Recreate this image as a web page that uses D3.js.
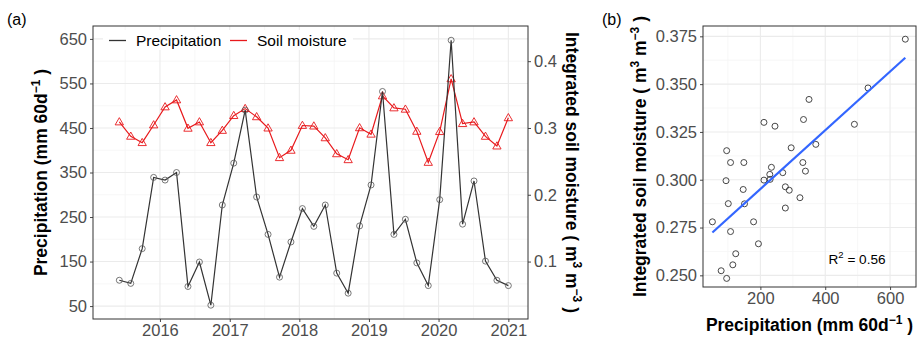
<!doctype html>
<html>

<head>
    <meta charset="UTF-8">
    <title>Precipitation and soil moisture</title>
    <script src="https://d3js.org/d3.v7.min.js"></script>
    <style>
        body { margin: 0; background: #fff; }
        text { font-family: "Liberation Sans", Arial, sans-serif; }
    </style>
</head>

<body>
    <script>
        // 60-day periods
        var dates = ["2015-06-02", "2015-08-01", "2015-09-30", "2015-11-29", "2016-01-28", "2016-03-28",
            "2016-05-27", "2016-07-26", "2016-09-24", "2016-11-23", "2017-01-22", "2017-03-23",
            "2017-05-22", "2017-07-21", "2017-09-19", "2017-11-18", "2018-01-17", "2018-03-18",
            "2018-05-17", "2018-07-16", "2018-09-14", "2018-11-13", "2019-01-12", "2019-03-13",
            "2019-05-12", "2019-07-11", "2019-09-09", "2019-11-08", "2020-01-07", "2020-03-07",
            "2020-05-06", "2020-07-05", "2020-09-03", "2020-11-02", "2021-01-01"];
        // mm per 60 d
        var precip = [108, 101, 179, 339, 333, 350, 94, 149, 52, 277, 371, 490,
            295, 211, 115, 194, 269, 229, 277, 124, 79, 230, 322, 532,
            211, 245, 147, 96, 289, 647, 234, 331, 151, 108, 96];
        // m3 m-3
        var soil = [0.309, 0.2875, 0.278, 0.3045, 0.3315, 0.342, 0.2995, 0.309, 0.278, 0.2963, 0.3185, 0.329,
            0.3167, 0.2998, 0.2555, 0.2665, 0.3037, 0.3028, 0.2852, 0.2613, 0.2524, 0.3002, 0.2906, 0.348,
            0.330, 0.328, 0.2949, 0.2484, 0.2945, 0.3735, 0.3065, 0.309, 0.2874, 0.2729, 0.3152];

        var yearTicks = [2016, 2017, 2018, 2019, 2020, 2021];
        var precipTicks = [50, 150, 250, 350, 450, 550, 650];
        var soilTicksA = [0.1, 0.2, 0.3, 0.4];
        var scatterXTicks = [200, 400, 600];
        var scatterYTicks = [0.250, 0.275, 0.300, 0.325, 0.350, 0.375];
        var r2Label = "0.56";

        var W = 920, H = 339;
        var grid = "#ebebeb", border = "#333333", tickCol = "#4d4d4d";
        var tickFont = 16.5, titleFont = 17.5;

        var parse = d3.timeParse("%Y-%m-%d");
        var data = dates.map(function (d, i) {
            return { date: parse(d), p: precip[i], s: soil[i] };
        });

        var svg = d3.select("body").append("svg")
            .attr("width", W).attr("height", H);

        drawSeries();
        drawScatter();

        function gridLines(g, xs, ys, x, y, minorX, minorY) {
            g.selectAll(".mx").data(minorX).enter().append("line")
                .attr("x1", x).attr("x2", x).attr("y1", ys[0]).attr("y2", ys[1])
                .attr("stroke", "#f5f5f5").attr("stroke-width", 0.8);
            g.selectAll(".my").data(minorY).enter().append("line")
                .attr("y1", y).attr("y2", y).attr("x1", xs[0]).attr("x2", xs[1])
                .attr("stroke", "#f5f5f5").attr("stroke-width", 0.8);
        }

        function styleAxis(g) {
            g.select(".domain").remove();
            g.selectAll(".tick line").attr("stroke", border).attr("stroke-width", 0.9);
            g.selectAll(".tick text").attr("fill", tickCol)
                .style("font-size", tickFont + "px")
                .style("font-family", "'Liberation Sans', Arial, sans-serif");
        }

        function drawSeries() {
            var L = 93, R = 528, T = 26, B = 319;
            var x = d3.scaleTime().domain([parse("2015-01-15"), parse("2021-04-14")]).range([L, R]);
            var y = d3.scaleLinear().domain([21, 679]).range([B, T]);
            // secondary axis: soil moisture * 1500 = precipitation scale
            var y2 = d3.scaleLinear().domain([21 / 1500, 679 / 1500]).range([B, T]);

            var g = svg.append("g");
            var minorYears = [2015.5, 2016.5, 2017.5, 2018.5, 2019.5, 2020.5];
            var minorX = minorYears.map(function (v) {
                var yr = Math.floor(v);
                return d3.timeDay.offset(new Date(yr, 0, 1), Math.round((new Date(yr + 1, 0, 1) - new Date(yr, 0, 1)) / 864e5 / 2));
            });
            var minorY = [100, 200, 300, 400, 500, 600];
            gridLines(g, [L, R], [T, B], function (d) { return x(d); }, function (d) { return y(d); }, minorX, minorY);

            g.selectAll(".gx").data(yearTicks).enter().append("line")
                .attr("x1", function (d) { return x(new Date(d, 0, 1)); })
                .attr("x2", function (d) { return x(new Date(d, 0, 1)); })
                .attr("y1", T).attr("y2", B).attr("stroke", grid).attr("stroke-width", 1.1);
            g.selectAll(".gy").data(precipTicks).enter().append("line")
                .attr("x1", L).attr("x2", R)
                .attr("y1", function (d) { return y(d); }).attr("y2", function (d) { return y(d); })
                .attr("stroke", grid).attr("stroke-width", 1.1);

            // soil moisture
            g.append("path").datum(data)
                .attr("d", d3.line().x(function (d) { return x(d.date); }).y(function (d) { return y2(d.s); }))
                .attr("fill", "none").attr("stroke", "#e8191c").attr("stroke-width", 1.2);
            g.selectAll(".tri").data(data).enter().append("path")
                .attr("d", d3.symbol().type(d3.symbolTriangle).size(30))
                .attr("transform", function (d) { return "translate(" + x(d.date) + "," + (y2(d.s) + 0.5) + ")"; })
                .attr("fill", "none").attr("stroke", "#e8191c").attr("stroke-width", 0.9);

            // precipitation
            g.append("path").datum(data)
                .attr("d", d3.line().x(function (d) { return x(d.date); }).y(function (d) { return y(d.p); }))
                .attr("fill", "none").attr("stroke", "#333333").attr("stroke-width", 1.2);
            g.selectAll(".pt").data(data).enter().append("circle")
                .attr("cx", function (d) { return x(d.date); })
                .attr("cy", function (d) { return y(d.p); })
                .attr("r", 3).attr("fill", "none").attr("stroke", "#555").attr("stroke-width", 0.8);

            g.append("rect").attr("x", L).attr("y", T).attr("width", R - L).attr("height", B - T)
                .attr("fill", "none").attr("stroke", border).attr("stroke-width", 1);

            // legend
            var lg = g.append("g");
            lg.append("rect").attr("x", 103).attr("y", 30).attr("width", 250).attr("height", 20).attr("fill", "#fff");
            var keys = [
                { name: "Precipitation", col: "#333333", x: 109 },
                { name: "Soil moisture", col: "#e8191c", x: 230 }
            ];
            keys.forEach(function (k) {
                lg.append("line").attr("x1", k.x).attr("x2", k.x + 17).attr("y1", 40.5).attr("y2", 40.5)
                    .attr("stroke", k.col).attr("stroke-width", 1.3);
                lg.append("text").attr("x", k.x + 27).attr("y", 46).style("font-size", "15.5px")
                    .attr("fill", "#000").text(k.name);
            });

            svg.append("g").attr("transform", "translate(" + L + ",0)")
                .call(d3.axisLeft(y).tickValues(precipTicks).tickSize(3).tickPadding(3))
                .call(styleAxis);
            svg.append("g").attr("transform", "translate(" + R + ",0)")
                .call(d3.axisRight(y2).tickValues(soilTicksA).tickSize(3).tickPadding(3).tickFormat(d3.format(".1f")))
                .call(styleAxis);
            svg.append("g").attr("transform", "translate(0," + B + ")")
                .call(d3.axisBottom(x).tickValues(yearTicks.map(function (d) { return new Date(d, 0, 1); }))
                    .tickSize(3).tickPadding(2).tickFormat(d3.timeFormat("%Y")))
                .call(styleAxis);

            // titles
            var t1 = svg.append("text").attr("transform", "translate(47," + (T + B) / 2 + ") rotate(-90)")
                .attr("text-anchor", "middle").style("font-size", titleFont + "px").style("font-weight", "bold");
            t1.append("tspan").text("Precipitation (mm 60d");
            t1.append("tspan").attr("dy", -7).style("font-size", "12px").text("\u22121");
            t1.append("tspan").attr("dy", 7).text(" )");

            var t2 = svg.append("text").attr("transform", "translate(565.5," + (T + B) / 2 + ") rotate(90)")
                .attr("text-anchor", "middle").style("font-size", titleFont + "px").style("font-weight", "bold");
            t2.append("tspan").text("Integrated soil moisture ( m");
            t2.append("tspan").attr("dy", -7).style("font-size", "12px").text("3");
            t2.append("tspan").attr("dy", 7).text(" m");
            t2.append("tspan").attr("dy", -7).style("font-size", "12px").text("\u22123");
            t2.append("tspan").attr("dy", 7).text(" )");

            svg.append("text").attr("x", 7).attr("y", 25).style("font-size", "16px").text("(a)");
        }

        function drawScatter() {
            var L = 703, R = 916, T = 26, B = 287;
            var x = d3.scaleLinear().domain([23, 680]).range([L, R]);
            var y = d3.scaleLinear().domain([0.2439, 0.3804]).range([B, T]);

            var g = svg.append("g");
            gridLines(g, [L, R], [T, B], function (d) { return x(d); }, function (d) { return y(d); },
                [100, 300, 500], [0.2625, 0.2875, 0.3125, 0.3375, 0.3625]);
            g.selectAll(".gx").data(scatterXTicks).enter().append("line")
                .attr("x1", function (d) { return x(d); }).attr("x2", function (d) { return x(d); })
                .attr("y1", T).attr("y2", B).attr("stroke", grid).attr("stroke-width", 1.1);
            g.selectAll(".gy").data(scatterYTicks).enter().append("line")
                .attr("x1", L).attr("x2", R)
                .attr("y1", function (d) { return y(d); }).attr("y2", function (d) { return y(d); })
                .attr("stroke", grid).attr("stroke-width", 1.1);

            g.selectAll(".pt").data(data).enter().append("circle")
                .attr("cx", function (d) { return x(d.p); })
                .attr("cy", function (d) { return y(d.s); })
                .attr("r", 3).attr("fill", "none").attr("stroke", "#333").attr("stroke-width", 0.9);

            // least squares fit
            var mx = d3.mean(data, function (d) { return d.p; });
            var my = d3.mean(data, function (d) { return d.s; });
            var sxy = d3.sum(data, function (d) { return (d.p - mx) * (d.s - my); });
            var sxx = d3.sum(data, function (d) { return (d.p - mx) * (d.p - mx); });
            var b = sxy / sxx, a = my - b * mx;
            var ext = d3.extent(data, function (d) { return d.p; });
            g.append("line")
                .attr("x1", x(ext[0])).attr("y1", y(a + b * ext[0]))
                .attr("x2", x(ext[1])).attr("y2", y(a + b * ext[1]))
                .attr("stroke", "#3366ff").attr("stroke-width", 2.2);

            var r2 = g.append("text").attr("x", 828.5).attr("y", 263.5).style("font-size", "13.6px");
            r2.append("tspan").text("R");
            r2.append("tspan").attr("dy", -5.5).style("font-size", "9.5px").text("2");
            r2.append("tspan").attr("dy", 5.5).text(" = " + r2Label);

            g.append("rect").attr("x", L).attr("y", T).attr("width", R - L).attr("height", B - T)
                .attr("fill", "none").attr("stroke", border).attr("stroke-width", 1);

            svg.append("g").attr("transform", "translate(" + L + ",0)")
                .call(d3.axisLeft(y).tickValues(scatterYTicks).tickSize(3).tickPadding(3).tickFormat(d3.format(".3f")))
                .call(styleAxis);
            svg.append("g").attr("transform", "translate(0," + B + ")")
                .call(d3.axisBottom(x).tickValues(scatterXTicks).tickSize(3).tickPadding(2))
                .call(styleAxis);

            var t1 = svg.append("text").attr("transform", "translate(645.5," + (T + B) / 2 + ") rotate(-90)")
                .attr("text-anchor", "middle").style("font-size", titleFont + "px").style("font-weight", "bold");
            t1.append("tspan").text("Integrated soil moisture ( m");
            t1.append("tspan").attr("dy", -7).style("font-size", "12px").text("3");
            t1.append("tspan").attr("dy", 7).text(" m");
            t1.append("tspan").attr("dy", -7).style("font-size", "12px").text("\u22123");
            t1.append("tspan").attr("dy", 7).text(" )");

            var t2 = svg.append("text").attr("x", (L + R) / 2).attr("y", 331)
                .attr("text-anchor", "middle").style("font-size", titleFont + "px").style("font-weight", "bold");
            t2.append("tspan").text("Precipitation (mm 60d");
            t2.append("tspan").attr("dy", -7).style("font-size", "12px").text("\u22121");
            t2.append("tspan").attr("dy", 7).text(" )");

            svg.append("text").attr("x", 602).attr("y", 25).style("font-size", "16px").text("(b)");
        }
    </script>
</body>

</html>
